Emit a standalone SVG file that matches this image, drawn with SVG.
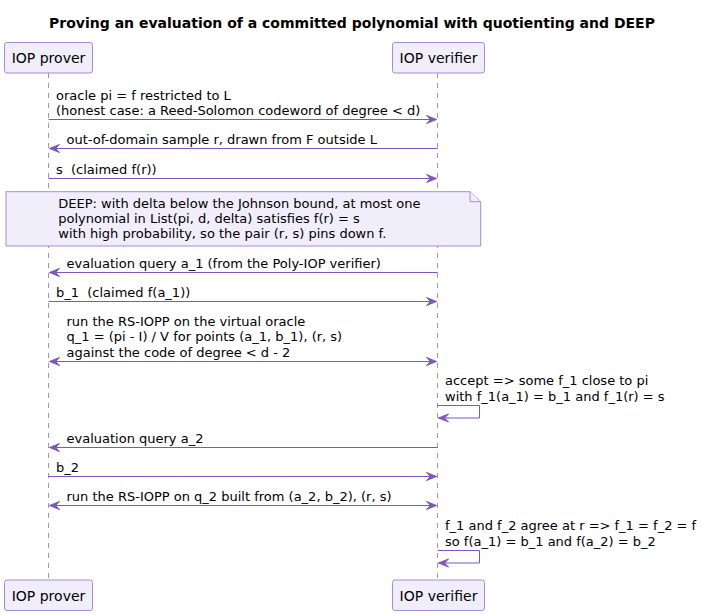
<svg xmlns="http://www.w3.org/2000/svg" width="702" height="615" viewBox="0 0 702 615">
<style>
.bg{fill:#FFFFFF}
.title{font-family:"DejaVu Sans",Verdana,sans-serif;font-size:14px;font-weight:bold;fill:#000000}
.ptxt{font-family:"DejaVu Sans",Verdana,sans-serif;font-size:14px;fill:#000000}
.txt{font-family:"DejaVu Sans",Verdana,sans-serif;font-size:13px;fill:#000000;white-space:pre}
.pbox{fill:#F1EEFB;stroke:#A58CD9;stroke-width:1}
.life{stroke:#A58CD9;stroke-width:1;stroke-dasharray:5,5;fill:none}
.msg{stroke:#7E57C2;stroke-width:1;fill:none}
.head{fill:#7E57C2;stroke:#7E57C2;stroke-width:1}
.note{fill:#F1EEFB;stroke:#A58CD9;stroke-width:1}
</style>
<rect class="bg" x="0" y="0" width="702" height="615"/>
<text class="title" x="352" y="28.3" text-anchor="middle">Proving an evaluation of a committed polynomial with quotienting and DEEP</text>
<g id="lifelines">
<line class="life" x1="48.5" y1="73" x2="48.5" y2="580"/>
<line class="life" x1="437.5" y1="73" x2="437.5" y2="580"/>
</g>
<g id="prover">
<rect class="pbox" x="4.5" y="42.5" width="88" height="30.5" rx="2.5"/>
<text class="ptxt" x="48.5" y="62.7" text-anchor="middle">IOP prover</text>
<rect class="pbox" x="4.5" y="580" width="88" height="30.5" rx="2.5"/>
<text class="ptxt" x="48.5" y="600.5" text-anchor="middle">IOP prover</text>
</g>
<g id="verifier">
<rect class="pbox" x="392.5" y="42.5" width="92" height="30.5" rx="2.5"/>
<text class="ptxt" x="438.5" y="62.7" text-anchor="middle">IOP verifier</text>
<rect class="pbox" x="392.5" y="580" width="92" height="30.5" rx="2.5"/>
<text class="ptxt" x="438.5" y="600.5" text-anchor="middle">IOP verifier</text>
</g>
<g id="note">
<path class="note" d="M6,191.7 L470,191.7 L480.7,201.7 L480.7,246 L6,246 Z"/>
<path class="note" d="M470,191.7 L470,201.7 L480.7,201.7"/>
<text class="txt" x="58.3" y="207.7">DEEP: with delta below the Johnson bound, at most one</text>
<text class="txt" x="58.3" y="222.7">polynomial in List(pi, d, delta) satisfies f(r) = s</text>
<text class="txt" x="58.3" y="237.7">with high probability, so the pair (r, s) pins down f.</text>
</g>
<g id="connectors">
<line class="msg" x1="48.5" y1="119.5" x2="436.5" y2="119.5"/>
<polygon class="head" points="426.5,115.5 436.5,119.5 426.5,123.5 430.5,119.5"/>
<text class="txt" x="56" y="99.5">oracle pi = f restricted to L</text>
<text class="txt" x="56" y="114.5">(honest case: a Reed-Solomon codeword of degree &lt; d)</text>
<line class="msg" x1="49.5" y1="148.5" x2="437.5" y2="148.5"/>
<polygon class="head" points="59.5,144.5 49.5,148.5 59.5,152.5 55.5,148.5"/>
<text class="txt" x="66.5" y="143.5">out-of-domain sample r, drawn from F outside L</text>
<line class="msg" x1="48.5" y1="178.5" x2="436.5" y2="178.5"/>
<polygon class="head" points="426.5,174.5 436.5,178.5 426.5,182.5 430.5,178.5"/>
<text class="txt" x="56" y="173.5" xml:space="preserve">s  (claimed f(r))</text>
<line class="msg" x1="49.5" y1="272.5" x2="437.5" y2="272.5"/>
<polygon class="head" points="59.5,268.5 49.5,272.5 59.5,276.5 55.5,272.5"/>
<text class="txt" x="66.5" y="267.5">evaluation query a_1 (from the Poly-IOP verifier)</text>
<line class="msg" x1="48.5" y1="301.5" x2="436.5" y2="301.5"/>
<polygon class="head" points="426.5,297.5 436.5,301.5 426.5,305.5 430.5,301.5"/>
<text class="txt" x="56" y="296.5" xml:space="preserve">b_1  (claimed f(a_1))</text>
<line class="msg" x1="49.5" y1="361.5" x2="436.5" y2="361.5"/>
<polygon class="head" points="59.5,357.5 49.5,361.5 59.5,365.5 55.5,361.5"/>
<polygon class="head" points="426.5,357.5 436.5,361.5 426.5,365.5 430.5,361.5"/>
<text class="txt" x="66.5" y="326.3">run the RS-IOPP on the virtual oracle</text>
<text class="txt" x="66.5" y="341.4">q_1 = (pi - I) / V for points (a_1, b_1), (r, s)</text>
<text class="txt" x="66.5" y="356.5">against the code of degree &lt; d - 2</text>
<polyline class="msg" points="437.5,405.5 479.5,405.5 479.5,418 438.5,418"/>
<polygon class="head" points="448.5,414 438.5,418 448.5,422 444.5,418"/>
<text class="txt" x="445" y="385.4">accept =&gt; some f_1 close to pi</text>
<text class="txt" x="445" y="400.5">with f_1(a_1) = b_1 and f_1(r) = s</text>
<line class="msg" x1="49.5" y1="447.5" x2="437.5" y2="447.5"/>
<polygon class="head" points="59.5,443.5 49.5,447.5 59.5,451.5 55.5,447.5"/>
<text class="txt" x="66.5" y="442.5">evaluation query a_2</text>
<line class="msg" x1="48.5" y1="476.5" x2="436.5" y2="476.5"/>
<polygon class="head" points="426.5,472.5 436.5,476.5 426.5,480.5 430.5,476.5"/>
<text class="txt" x="56" y="471.5">b_2</text>
<line class="msg" x1="49.5" y1="505.5" x2="436.5" y2="505.5"/>
<polygon class="head" points="59.5,501.5 49.5,505.5 59.5,509.5 55.5,505.5"/>
<polygon class="head" points="426.5,501.5 436.5,505.5 426.5,509.5 430.5,505.5"/>
<text class="txt" x="66.5" y="500.5">run the RS-IOPP on q_2 built from (a_2, b_2), (r, s)</text>
<polyline class="msg" points="437.5,550.5 479.5,550.5 479.5,563 438.5,563"/>
<polygon class="head" points="448.5,559 438.5,563 448.5,567 444.5,563"/>
<text class="txt" x="445" y="530.4">f_1 and f_2 agree at r =&gt; f_1 = f_2 = f</text>
<text class="txt" x="445" y="545.5">so f(a_1) = b_1 and f(a_2) = b_2</text>
</g>
</svg>
